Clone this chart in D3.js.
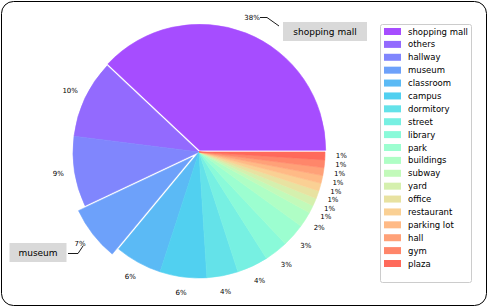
<!DOCTYPE html>
<html><head><meta charset="utf-8">
<script src="https://cdn.jsdelivr.net/npm/d3@7"></script>
<style>body{margin:0;background:#fff}svg{display:block}text{font-family:"DejaVu Sans",sans-serif}</style>
</head><body>
<svg id="c" width="488" height="307"></svg>
<script>
const categories = ["shopping mall","others","hallway","museum","classroom","campus","dormitory","street","library","park","buildings","subway","yard","office","restaurant","parking lot","hall","gym","plaza"];
const values = [38,10,9,7,6,6,4,4,3,3,2,1,1,1,1,1,1,1,1];
const pctLabels = ["38%","10%","9%","7%","6%","6%","4%","4%","3%","3%","2%","1%","1%","1%","1%","1%","1%","1%","1%"];
const explode = [0.015,0,0,0.065,0,0,0,0,0,0,0,0,0,0,0,0,0,0,0];
const callouts = ["shopping mall","museum"];

const svg = d3.select("#c");
svg.append("rect").attr("x",1.5).attr("y",1.5).attr("width",485).attr("height",304).attr("rx",12)
  .attr("fill","#fff").attr("stroke","#000").attr("stroke-width",1);

function rainbow(x, a){
  const r = Math.min(1, Math.abs(2*x-0.5)), g = Math.sin(Math.PI*x), b = Math.cos(Math.PI/2*x);
  const m = v => Math.round(255*(v*a + (1-a)));
  return d3.rgb(m(r), m(g), m(b)).formatHex();
}
const n = categories.length;
const color = d3.scaleOrdinal().domain(categories).range(categories.map((d,i)=>rainbow(i/n,0.7)));

const cx = 199, cy = 152, R = 126;
const pie = d3.pie().sort(null).value(d=>d.v).startAngle(Math.PI/2).endAngle(Math.PI/2 - 2*Math.PI);
const data = categories.map((c,i)=>({c, v:values[i], p:pctLabels[i], e:explode[i]}));
const arcs = pie(data);
const arc = d3.arc().innerRadius(0).outerRadius(R);
const g = svg.append("g").attr("transform",`translate(${cx},${cy})`);

const pos = (a, r) => [Math.sin(a)*r, -Math.cos(a)*r];
arcs.forEach(d=>{
  const mid = (d.startAngle+d.endAngle)/2;
  const [ox, oy] = pos(mid, d.data.e*R);
  d.ox = ox; d.oy = oy; d.mid = mid;
});
g.selectAll("path").data(arcs).join("path")
  .attr("transform", d=>`translate(${d.ox},${d.oy})`)
  .attr("d", arc).attr("fill", d=>color(d.data.c))
  .attr("stroke", d=>color(d.data.c)).attr("stroke-width",0.6).attr("stroke-linejoin","round");

g.selectAll("text.pct").data(arcs).join("text").attr("class","pct")
  .attr("x", d=>d.ox + pos(d.mid, R*1.13)[0])
  .attr("y", d=>d.oy + pos(d.mid, R*1.13)[1])
  .attr("text-anchor","middle").attr("dominant-baseline","central")
  .attr("font-size",7).attr("fill","#000").text(d=>d.data.p);

// callouts
const co = svg.append("g");
co.append("path").attr("d","M260,17.5 L267,17.5 L279,26").attr("fill","none").attr("stroke","#000").attr("stroke-width",0.9);
co.append("rect").attr("x",283).attr("y",22).attr("width",84).attr("height",19).attr("fill","#d9d9d9");
co.append("text").attr("x",325).attr("y",32).attr("text-anchor","middle").attr("dominant-baseline","central")
  .attr("font-size",9).text(callouts[0]);
co.append("path").attr("d","M68,253.5 L78,253.5 L83,246").attr("fill","none").attr("stroke","#000").attr("stroke-width",0.9);
co.append("rect").attr("x",9.5).attr("y",243).attr("width",57).attr("height",19).attr("fill","#d9d9d9");
co.append("text").attr("x",38).attr("y",252.5).attr("text-anchor","middle").attr("dominant-baseline","central")
  .attr("font-size",9).text(callouts[1]);

// legend
const lg = svg.append("g");
lg.append("rect").attr("x",380.5).attr("y",24.5).attr("width",91).attr("height",258).attr("rx",2)
  .attr("fill","#fff").attr("stroke","#ccc").attr("stroke-width",1);
const ly = d3.scalePoint().domain(categories).range([31.5, 263.5]);
const items = lg.selectAll("g.it").data(categories).join("g").attr("class","it")
  .attr("transform", d=>`translate(0,${ly(d)})`);
items.append("rect").attr("x",384).attr("y",-3.5).attr("width",17).attr("height",7).attr("fill",d=>color(d));
items.append("text").attr("x",408).attr("y",0).attr("dominant-baseline","central").attr("font-size",8.5).text(d=>d);
</script>
</body></html>
